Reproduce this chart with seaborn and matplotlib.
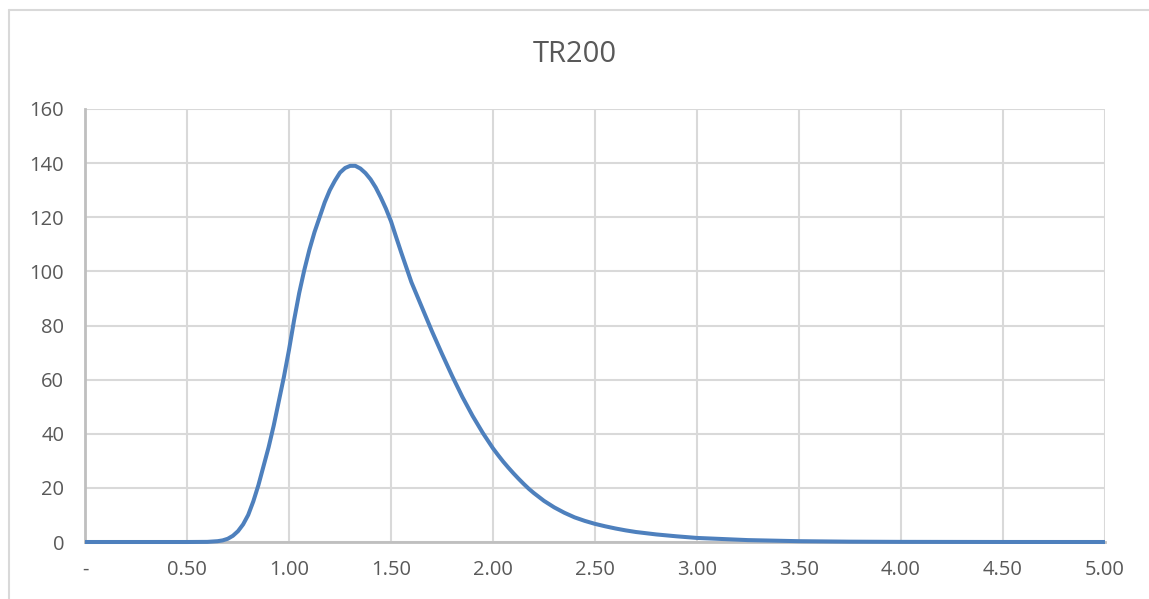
import matplotlib
matplotlib.use("Agg")
import matplotlib.pyplot as plt
import seaborn as sns
import pandas as pd
from matplotlib.lines import Line2D

# ---- data ----
x_vals = [0.00, 0.25, 0.50, 0.60, 0.65, 0.675, 0.70, 0.725, 0.75, 0.775,
          0.80, 0.825, 0.85, 0.875, 0.90, 0.925, 0.95, 0.975,
          1.00, 1.025, 1.05, 1.075, 1.10, 1.125, 1.15, 1.175, 1.20, 1.225,
          1.25, 1.275, 1.30, 1.325, 1.35, 1.375, 1.40, 1.425, 1.45, 1.475,
          1.50, 1.525, 1.55, 1.60, 1.65, 1.70, 1.75, 1.80, 1.85, 1.90, 1.95,
          2.00, 2.025, 2.05, 2.075, 2.10, 2.125, 2.15, 2.175, 2.20, 2.25,
          2.30, 2.35, 2.40, 2.45, 2.50, 2.55, 2.60, 2.65, 2.70,
          2.80, 2.90, 3.00, 3.25, 3.50, 3.75, 4.00, 4.50, 5.00]
y_vals = [0.0, 0.0, 0.0, 0.05, 0.3, 0.6, 1.2, 2.3, 4.0, 6.5,
          10.0, 15.0, 21.0, 28.0, 35.0, 43.0, 52.0, 61.0,
          71.0, 82.0, 92.0, 100.5, 108.0, 114.5, 120.0, 125.5, 130.0, 133.5,
          136.5, 138.2, 139.0, 139.0, 138.0, 136.3, 134.0, 131.0, 127.3, 123.2,
          118.5, 112.7, 107.0, 96.0, 87.0, 78.0, 69.5, 61.3, 53.6, 46.6, 40.3,
          34.6, 32.1, 29.7, 27.5, 25.4, 23.4, 21.5, 19.7, 18.1, 15.2,
          12.8, 10.8, 9.1, 7.8, 6.7, 5.8, 5.0, 4.3, 3.7,
          2.8, 2.1, 1.5, 0.7, 0.3, 0.12, 0.05, 0.01, 0.0]
x_ticks = [0.0, 0.5, 1.0, 1.5, 2.0, 2.5, 3.0, 3.5, 4.0, 4.5, 5.0]
x_tick_labels = ["-", "0.50", "1.00", "1.50", "2.00", "2.50", "3.00",
                 "3.50", "4.00", "4.50", "5.00"]
y_ticks = [0, 20, 40, 60, 80, 100, 120, 140, 160]
title = "TR200"

df = pd.DataFrame({"x": x_vals, "y": y_vals})

sns.set_theme(style="white")
plt.rcParams["font.family"] = ["Open Sans", "DejaVu Sans"]

W, H = 1149, 599
fig = plt.figure(figsize=(W / 100, H / 100), dpi=100)
ax = fig.add_axes([85 / W, (H - 542) / H, (1105 - 85) / W, (542 - 109) / H])

grid_c = "#d9d9d9"
axis_c = "#bfbfbf"
text_c = "#595959"

for yt in y_ticks:
    ax.axhline(yt, color=grid_c, lw=1.5, zorder=0)
for xt in x_ticks:
    ax.axvline(xt, color=grid_c, lw=1.5, zorder=0)

sns.lineplot(data=df, x="x", y="y", ax=ax, color="#4E80BD", lw=2.9,
             zorder=3, clip_on=False)
for ln in ax.lines:
    ln.set_solid_joinstyle("round")
    ln.set_solid_capstyle("butt")

ax.set_xlim(0, 5)
ax.set_ylim(0, 160)
ax.set_xticks(x_ticks)
ax.set_xticklabels(x_tick_labels)
ax.set_yticks(y_ticks)
ax.set_yticklabels([str(v) for v in y_ticks])
ax.set_xlabel("")
ax.set_ylabel("")
ax.tick_params(axis="both", length=0, labelsize=14.5, colors=text_c)
ax.tick_params(axis="y", pad=15)
ax.tick_params(axis="x", pad=13)

for s in ["top", "right"]:
    ax.spines[s].set_visible(False)
for s in ["left", "bottom"]:
    ax.spines[s].set_color(axis_c)
    ax.spines[s].set_linewidth(2.0)
    ax.spines[s].set_zorder(2)

fig.text(0.5, (H - 55) / H, title, ha="center", va="center",
         fontsize=21, color=text_c)

# chart area border (left and top visible)
fig.add_artist(Line2D([8.5 / W, 8.5 / W], [0, (H - 10) / H],
                      transform=fig.transFigure, color=grid_c, lw=1.5))
fig.add_artist(Line2D([8.5 / W, 1], [(H - 10) / H, (H - 10) / H],
                      transform=fig.transFigure, color=grid_c, lw=1.5))

fig.savefig("out.png", dpi=100, facecolor="white")
